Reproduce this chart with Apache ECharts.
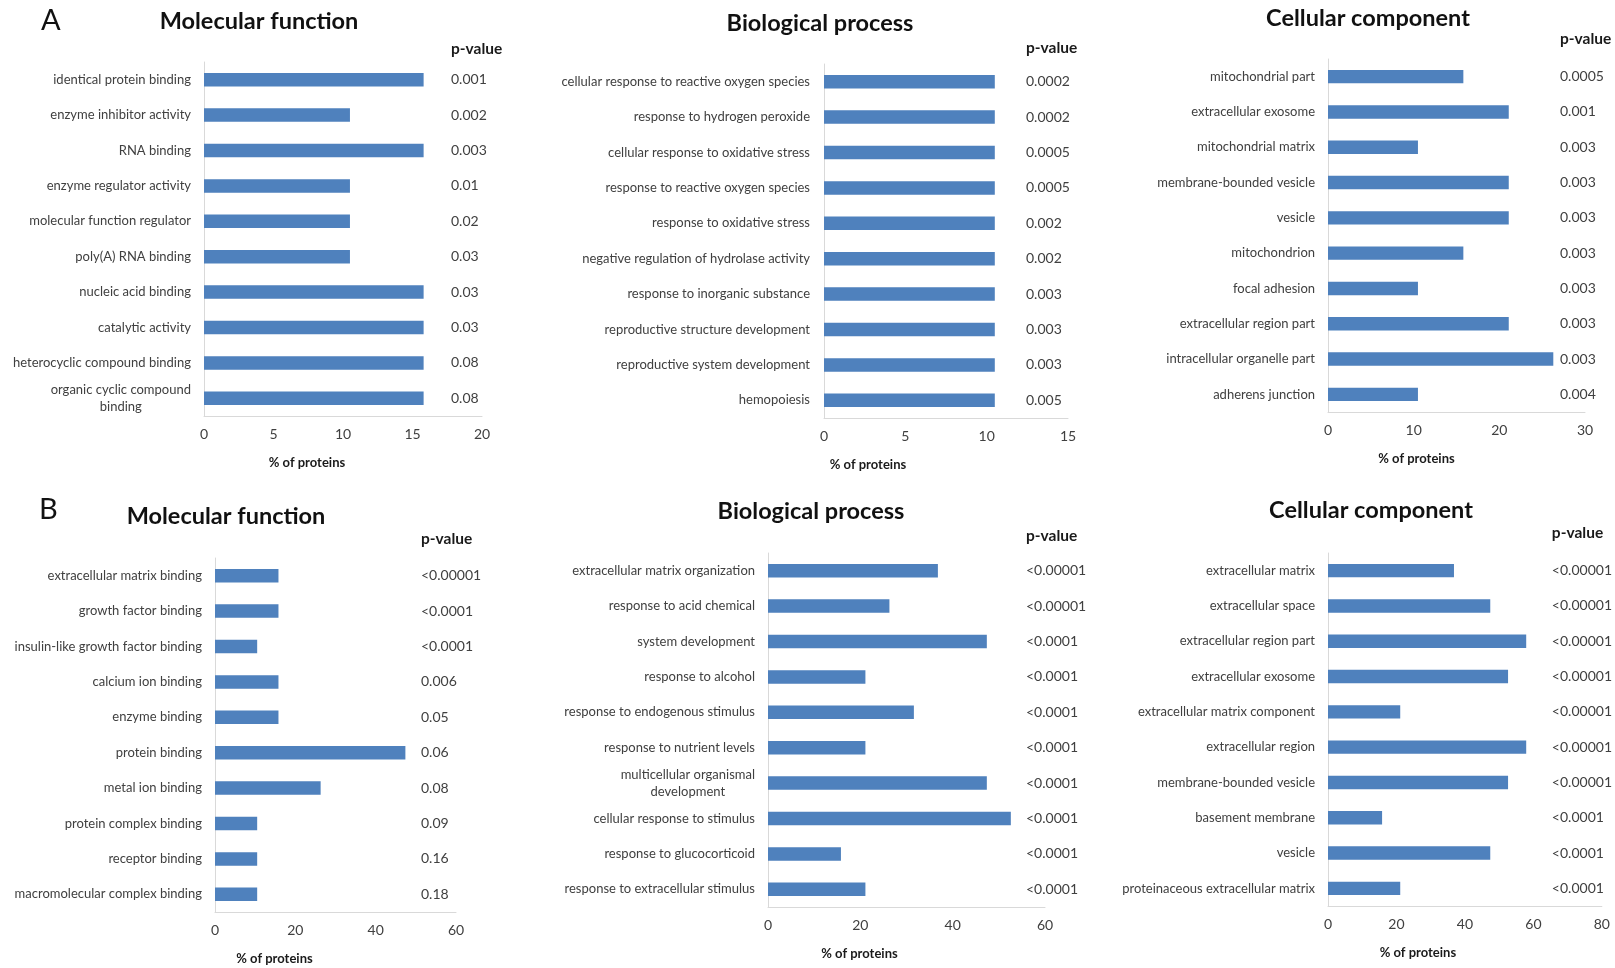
<!DOCTYPE html>
<html>
<head>
<meta charset="utf-8">
<title>GO enrichment</title>
<script src="https://cdn.jsdelivr.net/npm/echarts@6/dist/echarts.min.js"></script>
<style>
  html, body { margin: 0; padding: 0; background: #ffffff; }
  #chart { width: 1615px; height: 968px; }
</style>
</head>
<body>
<div id="chart"></div>
<script>
// ---- A: Molecular function ----
const mfA_terms = ['identical protein binding', 'enzyme inhibitor activity', 'RNA binding', 'enzyme regulator activity',
  'molecular function regulator', 'poly(A) RNA binding', 'nucleic acid binding', 'catalytic activity',
  'heterocyclic compound binding', 'organic cyclic compound\nbinding'];
const mfA_pct = [15.8, 10.5, 15.8, 10.5, 10.5, 10.5, 15.8, 15.8, 15.8, 15.8];
const mfA_p = ['0.001', '0.002', '0.003', '0.01', '0.02', '0.03', '0.03', '0.03', '0.08', '0.08'];

// ---- A: Biological process ----
const bpA_terms = ['cellular response to reactive oxygen species', 'response to hydrogen peroxide',
  'cellular response to oxidative stress', 'response to reactive oxygen species', 'response to oxidative stress',
  'negative regulation of hydrolase activity', 'response to inorganic substance', 'reproductive structure development',
  'reproductive system development', 'hemopoiesis'];
const bpA_pct = [10.5, 10.5, 10.5, 10.5, 10.5, 10.5, 10.5, 10.5, 10.5, 10.5];
const bpA_p = ['0.0002', '0.0002', '0.0005', '0.0005', '0.002', '0.002', '0.003', '0.003', '0.003', '0.005'];

// ---- A: Cellular component ----
const ccA_terms = ['mitochondrial part', 'extracellular exosome', 'mitochondrial matrix', 'membrane-bounded vesicle',
  'vesicle', 'mitochondrion', 'focal adhesion', 'extracellular region part', 'intracellular organelle part',
  'adherens junction'];
const ccA_pct = [15.8, 21.1, 10.5, 21.1, 21.1, 15.8, 10.5, 21.1, 26.3, 10.5];
const ccA_p = ['0.0005', '0.001', '0.003', '0.003', '0.003', '0.003', '0.003', '0.003', '0.003', '0.004'];

// ---- B: Molecular function ----
const mfB_terms = ['extracellular matrix binding', 'growth factor binding', 'insulin-like growth factor binding',
  'calcium ion binding', 'enzyme binding', 'protein binding', 'metal ion binding', 'protein complex binding',
  'receptor binding', 'macromolecular complex binding'];
const mfB_pct = [15.8, 15.8, 10.5, 15.8, 15.8, 47.4, 26.3, 10.5, 10.5, 10.5];
const mfB_p = ['<0.00001', '<0.0001', '<0.0001', '0.006', '0.05', '0.06', '0.08', '0.09', '0.16', '0.18'];

// ---- B: Biological process ----
const bpB_terms = ['extracellular matrix organization', 'response to acid chemical', 'system development',
  'response to alcohol', 'response to endogenous stimulus', 'response to nutrient levels',
  'multicellular organismal\ndevelopment', 'cellular response to stimulus', 'response to glucocorticoid',
  'response to extracellular stimulus'];
const bpB_pct = [36.8, 26.3, 47.4, 21.1, 31.6, 21.1, 47.4, 52.6, 15.8, 21.1];
const bpB_p = ['<0.00001', '<0.00001', '<0.0001', '<0.0001', '<0.0001', '<0.0001', '<0.0001', '<0.0001', '<0.0001', '<0.0001'];

// ---- B: Cellular component ----
const ccB_terms = ['extracellular matrix', 'extracellular space', 'extracellular region part', 'extracellular exosome',
  'extracellular matrix component', 'extracellular region', 'membrane-bounded vesicle', 'basement membrane',
  'vesicle', 'proteinaceous extracellular matrix'];
const ccB_pct = [36.8, 47.4, 57.9, 52.6, 21.1, 57.9, 52.6, 15.8, 47.4, 21.1];
const ccB_p = ['<0.00001', '<0.00001', '<0.00001', '<0.00001', '<0.00001', '<0.00001', '<0.00001', '<0.0001', '<0.0001', '<0.0001'];

// x-axis ticks per panel: [max, interval]
const mfA_ticks = [20, 5];
const bpA_ticks = [15, 5];
const ccA_ticks = [30, 10];
const mfB_ticks = [60, 20];
const bpB_ticks = [60, 20];
const ccB_ticks = [80, 20];

const panelTitles = ['Molecular function', 'Biological process', 'Cellular component',
  'Molecular function', 'Biological process', 'Cellular component'];
const panelLetters = ['A', 'B'];
const axisTitle = '% of proteins';
const pHeader = 'p-value';

// Layout of each panel: plot rectangle, p-value column x, title centre, axis-name shift
const panels = [
  { terms: mfA_terms, pct: mfA_pct, p: mfA_p, ticks: mfA_ticks,
    left: 204, top: 62, width: 278, height: 354, pX: 451, tx: 259, ty: 20, nameShift: -36, pGap: 13, lm: 13 },
  { terms: bpA_terms, pct: bpA_pct, p: bpA_p, ticks: bpA_ticks,
    left: 824, top: 64, width: 244, height: 354, pX: 1026, tx: 820, ty: 22, nameShift: -78, pGap: 16, lm: 14 },
  { terms: ccA_terms, pct: ccA_pct, p: ccA_p, ticks: ccA_ticks,
    left: 1328, top: 59, width: 257, height: 353, pX: 1560, tx: 1368, ty: 17, nameShift: -40, pGap: 20, lm: 13 },
  { terms: mfB_terms, pct: mfB_pct, p: mfB_p, ticks: mfB_ticks,
    left: 215, top: 558, width: 241, height: 354, pX: 421, tx: 226, ty: 515, nameShift: -61, pGap: 19, lm: 13 },
  { terms: bpB_terms, pct: bpB_pct, p: bpB_p, ticks: bpB_ticks,
    left: 768, top: 553, width: 277, height: 354, pX: 1026, tx: 811, ty: 510, nameShift: -47, pGap: 17, lm: 13 },
  { terms: ccB_terms, pct: ccB_pct, p: ccB_p, ticks: ccB_ticks,
    left: 1328, top: 553, width: 277, height: 353, pX: 1555, tx: 1371, ty: 509, nameShift: -47, pGap: 20, lm: 13 }
];

const FONT = 'Lato';
const TEXT = '#404040';
const AXIS_LINE = '#d9d9d9';
const BAR = '#4f81bd';

const grid = [], xAxis = [], yAxis = [], series = [], title = [];

panels.forEach((pn, i) => {
  // categories bottom-to-top for the category axis
  const cats = pn.terms.slice().reverse();
  const vals = pn.pct.slice().reverse();
  const pv = pn.p.slice().reverse();

  grid.push({ left: pn.left, top: pn.top, width: pn.width, height: pn.height, containLabel: false });

  xAxis.push({
    type: 'value', gridIndex: i, min: 0, max: pn.ticks[0], interval: pn.ticks[1],
    axisLine: { show: true, lineStyle: { color: AXIS_LINE, width: 1 } },
    axisTick: { show: false },
    splitLine: { show: false },
    axisLabel: { color: TEXT, fontFamily: FONT, fontSize: 14, margin: 11 },
    name: axisTitle, nameLocation: 'middle', nameGap: 40,
    nameTextStyle: { color: '#1a1a1a', fontFamily: FONT, fontSize: 13, fontWeight: 'bold',
      padding: [0, Math.max(0, -2 * pn.nameShift), 0, Math.max(0, 2 * pn.nameShift)] }
  });

  // term axis on the left
  yAxis.push({
    type: 'category', gridIndex: i, data: cats,
    axisLine: { show: true, lineStyle: { color: AXIS_LINE, width: 1 } },
    axisTick: { show: false },
    splitLine: { show: false },
    axisLabel: {
      interval: 0, margin: pn.lm, color: TEXT, fontFamily: FONT, fontSize: 13, lineHeight: 17,
      formatter: v => v.split('\n').map(s => '{c|' + s + '}').join('\n'),
      rich: { c: { align: 'center', color: TEXT, fontFamily: FONT, fontSize: 13, lineHeight: 17 } }
    }
  });

  // p-value column, drawn as a second category axis
  yAxis.push({
    type: 'category', gridIndex: i, data: cats, position: 'right',
    offset: pn.pX - (pn.left + pn.width),
    axisLine: { show: false }, axisTick: { show: false }, splitLine: { show: false },
    axisLabel: {
      interval: 0, margin: 0, align: 'left', color: TEXT, fontFamily: FONT, fontSize: 14,
      formatter: (v, idx) => pv[idx]
    },
    name: pHeader, nameLocation: 'end', nameGap: pn.pGap,
    nameTextStyle: { color: '#1a1a1a', fontFamily: FONT, fontSize: 15.5, fontWeight: 'bold',
      align: 'left', verticalAlign: 'middle' }
  });

  series.push({
    type: 'bar', xAxisIndex: i, yAxisIndex: 2 * i, data: vals,
    barWidth: '38%', itemStyle: { color: BAR }, silent: true, animation: false
  });

  title.push({
    text: panelTitles[i], left: pn.tx, top: pn.ty - 11, textAlign: 'center', padding: 0,
    textStyle: { fontFamily: FONT, fontSize: 23.5, fontWeight: 'bold', color: '#111111' }
  });
});

title.push({ text: panelLetters[0], left: 41, top: 6, padding: 0,
  textStyle: { fontFamily: FONT, fontSize: 29, fontWeight: 'normal', color: '#111111' } });
title.push({ text: panelLetters[1], left: 39, top: 495, padding: 0,
  textStyle: { fontFamily: FONT, fontSize: 29, fontWeight: 'normal', color: '#111111' } });

const chart = echarts.init(document.getElementById('chart'), null, { renderer: 'canvas' });
chart.setOption({
  animation: false,
  backgroundColor: '#ffffff',
  title, grid, xAxis, yAxis, series
});
</script>
</body>
</html>
